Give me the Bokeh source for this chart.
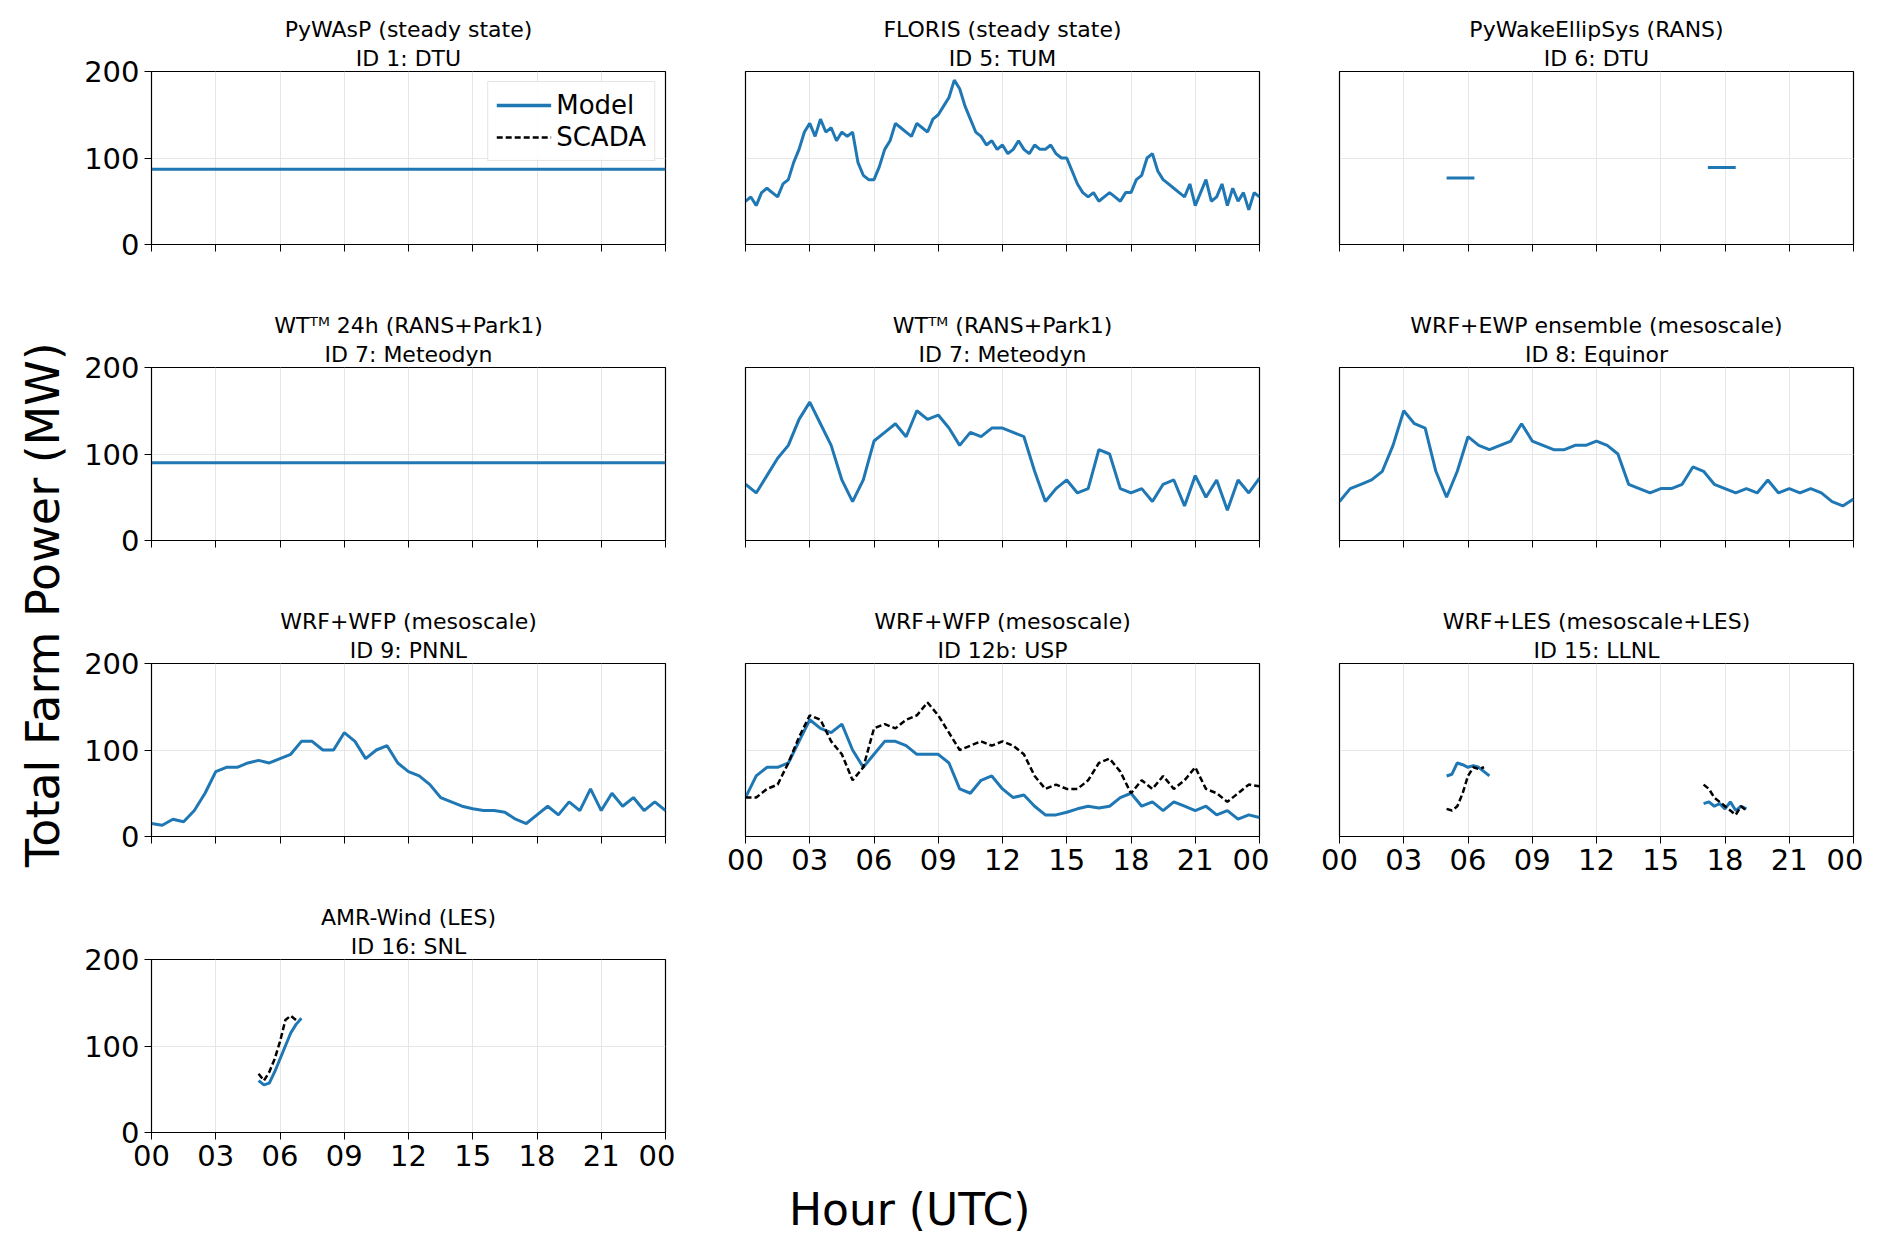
import numpy as np
from bokeh.plotting import figure
from bokeh.layouts import gridplot, column, row
from bokeh.models import Legend, LegendItem, FixedTicker, Range1d, Title
from bokeh.core.properties import value
from bokeh.embed import file_html
from bokeh.resources import INLINE

NaN = float("nan")
FONT = "DejaVu Sans"
BLUE = "#1f77b4"

hour_ticks = [0, 3, 6, 9, 12, 15, 18, 21, 24]
hour_labels = ["00", "03", "06", "09", "12", "15", "18", "21", "00"]
power_ticks = [0, 100, 200]

titles = [
    ("ID 1: DTU", "PyWAsP (steady state)"),
    ("ID 5: TUM", "FLORIS (steady state)"),
    ("ID 6: DTU", "PyWakeEllipSys (RANS)"),
    ("ID 7: Meteodyn", "WT\u1d40\u1d39 24h (RANS+Park1)"),
    ("ID 7: Meteodyn", "WT\u1d40\u1d39 (RANS+Park1)"),
    ("ID 8: Equinor", "WRF+EWP ensemble (mesoscale)"),
    ("ID 9: PNNL", "WRF+WFP (mesoscale)"),
    ("ID 12b: USP", "WRF+WFP (mesoscale)"),
    ("ID 15: LLNL", "WRF+LES (mesoscale+LES)"),
    ("ID 16: SNL", "AMR-Wind (LES)"),
]

half_h = [i * 0.5 for i in range(49)]
quarter_h = [i * 0.25 for i in range(97)]

id1_h = [0, 24]; id1_p = [87, 87]
id7a_h = [0, 24]; id7a_p = [90, 90]
id6_h = [5.0, 6.3, NaN, 17.2, 18.5]; id6_p = [77, 77, NaN, 89, 89]

id5_p = [50, 55, 45, 60, 65, 60, 55, 70, 75, 95, 110, 130, 140, 125, 145, 130, 135, 120, 130, 125,
         130, 95, 80, 75, 75, 90, 110, 120, 140, 135, 130, 125, 140, 135, 130, 145, 150, 160, 170, 190,
         180, 160, 145, 130, 125, 115, 120, 110, 115, 105, 110, 120, 110, 105, 115, 110, 110, 115, 105, 100,
         100, 85, 70, 60, 55, 60, 50, 55, 60, 55, 50, 60, 60, 75, 80, 100, 105, 85, 75, 70,
         65, 60, 55, 70, 45, 60, 75, 50, 55, 70, 45, 65, 50, 60, 40, 60, 55]

id7b_p = [65, 55, 75, 95, 110, 140, 160, 135, 110, 70, 45, 70, 115, 125, 135, 120, 150, 140, 145, 130,
          110, 125, 120, 130, 130, 125, 120, 80, 45, 60, 70, 55, 60, 105, 100, 60, 55, 60, 45, 65,
          70, 40, 75, 50, 70, 35, 70, 55, 72]
id8_p = [45, 60, 65, 70, 80, 110, 150, 135, 130, 80, 50, 80, 120, 110, 105, 110, 115, 135, 115, 110,
         105, 105, 110, 110, 115, 110, 100, 65, 60, 55, 60, 60, 65, 85, 80, 65, 60, 55, 60, 55,
         70, 55, 60, 55, 60, 55, 45, 40, 48]
id9_p = [15, 13, 20, 17, 30, 50, 75, 80, 80, 85, 88, 85, 90, 95, 110, 110, 100, 100, 120, 110,
         90, 100, 105, 85, 75, 70, 60, 45, 40, 35, 32, 30, 30, 28, 20, 15, 25, 35, 25, 40,
         30, 55, 30, 50, 35, 45, 30, 40, 30]
id12_model = [45, 70, 80, 80, 85, 110, 135, 125, 120, 130, 100, 80, 95, 110, 110, 105, 95, 95, 95, 85,
              55, 50, 65, 70, 55, 45, 48, 35, 25, 25, 28, 32, 35, 33, 35, 45, 50, 35, 40, 30,
              40, 35, 30, 35, 25, 30, 20, 25, 22]
id12_scada = [45, 45, 55, 60, 85, 115, 140, 135, 110, 95, 65, 80, 125, 130, 125, 135, 140, 155, 140, 120,
              100, 105, 110, 105, 110, 105, 95, 70, 55, 60, 55, 55, 65, 85, 90, 75, 50, 65, 55, 70,
              55, 65, 80, 55, 50, 40, 50, 60, 58]

id15_h = [5, 5.25, 5.5, 5.75, 6, 6.25, 6.5, 6.75, 7, NaN, 17, 17.25, 17.5, 17.75, 18, 18.25, 18.5, 18.75, 19]
id15_model = [70, 72, 85, 83, 80, 82, 80, 75, 70, NaN, 38, 40, 35, 38, 32, 40, 30, 35, 32]
id15_scada_h = [5, 5.25, 5.5, 5.75, 6, 6.25, 6.5, 6.75, NaN, 17, 17.25, 17.5, 17.75, 18, 18.25, 18.5, 18.75, 19]
id15_scada = [32, 30, 35, 50, 70, 80, 78, 80, NaN, 60, 55, 45, 40, 35, 30, 25, 35, 30]

id16_h = [5, 5.25, 5.5, 5.75, 6, 6.25, 6.5, 6.75, 7]
id16_model = [60, 55, 57, 70, 85, 100, 115, 125, 132]
id16_scada_h = [5, 5.25, 5.5, 5.75, 6, 6.25, 6.5, 6.75]
id16_scada = [68, 60, 70, 85, 105, 130, 135, 130]

series = [
    [(id1_h, id1_p, "m")],
    [(quarter_h, id5_p, "m")],
    [(id6_h, id6_p, "m")],
    [(id7a_h, id7a_p, "m")],
    [(half_h, id7b_p, "m")],
    [(half_h, id8_p, "m")],
    [(half_h, id9_p, "m")],
    [(half_h, id12_model, "m"), (half_h, id12_scada, "s")],
    [(id15_h, id15_model, "m"), (id15_scada_h, id15_scada, "s")],
    [(id16_h, id16_model, "m"), (id16_scada_h, id16_scada, "s")],
]

FW, FH = 514, 173
TICK_FS = "29px"

def style_title(t):
    t.align = "center"
    t.text_font = FONT
    t.text_font_style = "normal"
    t.text_font_size = "22px"
    t.text_color = "black"
    t.standoff = 2

def panel(i, show_x, show_y, top):
    p = figure(frame_width=FW, frame_height=FH, output_backend="svg", toolbar_location=None,
               x_range=Range1d(0, 24), y_range=Range1d(0, 200),
               min_border_left=70, min_border_right=10, min_border_top=top, min_border_bottom=52)
    p.title.text = titles[i][1]
    style_title(p.title)
    t1 = Title(text=titles[i][0])
    style_title(t1)
    p.add_layout(t1, "above")
    p.outline_line_color = "black"
    p.outline_line_width = 1.2
    p.background_fill_color = "white"
    p.border_fill_color = "white"
    for ax in (p.xaxis[0], p.yaxis[0]):
        ax.axis_line_color = "black"
        ax.major_tick_line_color = "black"
        ax.major_tick_in = 0
        ax.major_tick_out = 7
        ax.minor_tick_line_color = None
        ax.major_label_text_font = FONT
        ax.major_label_text_font_size = TICK_FS
        ax.major_label_text_color = "black"
    p.xaxis.ticker = FixedTicker(ticks=hour_ticks)
    p.xaxis.major_label_overrides = {t: l for t, l in zip(hour_ticks, hour_labels)}
    p.yaxis.ticker = FixedTicker(ticks=power_ticks)
    if not show_x:
        p.xaxis.major_label_text_alpha = 0
    if not show_y:
        p.yaxis.major_label_text_alpha = 0
        p.yaxis.major_tick_line_color = None
    p.grid.grid_line_color = "#e6e6e6"
    p.grid.grid_line_width = 1
    for h, v, kind in series[i]:
        if kind == "m":
            p.line(h, v, line_color=BLUE, line_width=3)
        else:
            p.line(h, v, line_color="black", line_width=2.5, line_dash="6 3")
    if i == 0:
        rm = p.line([NaN], [NaN], line_color=BLUE, line_width=3.5)
        rs = p.line([NaN], [NaN], line_color="black", line_width=2.5, line_dash="6 3")
        lg = Legend(items=[LegendItem(label="Model", renderers=[rm]),
                           LegendItem(label="SCADA", renderers=[rs])],
                    location="top_right", label_text_font=FONT, label_text_font_size="26px",
                    label_text_color="black",
                    border_line_color="#cccccc", background_fill_alpha=0.85,
                    glyph_width=55, spacing=2, margin=10, padding=8)
        p.add_layout(lg)
    return p

layout_map = [[0, 1, 2], [3, 4, 5], [6, 7, 8], [9, None, None]]
rows = []
for r, rr in enumerate(layout_map):
    cells = []
    for c, idx in enumerate(rr):
        if idx is None:
            cells.append(None)
            continue
        show_x = (r == 3) or (r == 2 and c > 0)
        cells.append(panel(idx, show_x, c == 0, 71))
    rows.append(cells)

grid = gridplot(rows, toolbar_location=None)

ylab = figure(width=81, height=1180, output_backend="svg", toolbar_location=None,
              x_range=Range1d(0, 1), y_range=Range1d(0, 1), min_border=0)
ylab.axis.visible = False
ylab.grid.visible = False
ylab.outline_line_color = None
ylab.text([0.52], [0.488], text=["Total Farm Power (MW)"], angle=np.pi / 2,
          text_font=value(FONT), text_font_size="46px", text_align="center", text_baseline="middle")

xlab = figure(width=1863, height=50, output_backend="svg", toolbar_location=None,
              x_range=Range1d(0, 1), y_range=Range1d(0, 1), min_border=0)
xlab.axis.visible = False
xlab.grid.visible = False
xlab.outline_line_color = None
xlab.text([0.488], [0.5], text=["Hour (UTC)"], text_font=value(FONT), text_font_size="44px",
          text_align="center", text_baseline="middle")

page = column(row(ylab, grid), xlab)
open("out.html", "w").write(file_html(page, INLINE))
